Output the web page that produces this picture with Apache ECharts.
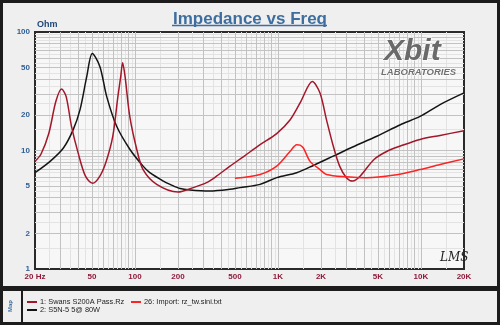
<!DOCTYPE html>
<html>
<head>
<meta charset="utf-8">
<script src="https://cdn.jsdelivr.net/npm/echarts@6/dist/echarts.min.js"></script>
<style>html,body{margin:0;padding:0;background:#1c1c1c}#c{width:500px;height:325px}</style>
</head>
<body>
<div id="c"></div>
<script>
// ---- data ----
const s1Name = '1: Swans S200A Pass.Rz';
const s1Freq = [20,22,25,28,30.7,33,36,40,45,50.6,57,63,70,76,79.5,82,85.3,92,103,114,142,200,256,317,374,462,572,750,980,1218,1428,1740,1968,2184,2436,2700,3011,3331,3766,4696,5800,7180,9860,13600,20000];
const s1Ohm  = [8.1,9.3,14,26,33,28.6,16,9.6,6.1,5.28,6.1,8.1,13.2,28.6,42,55,42,19.4,10.2,6.9,5.18,4.46,4.86,5.35,6.1,7.38,8.85,11.2,13.9,18.2,25.2,38.2,30.6,18.2,10.9,7.38,5.9,5.52,6.1,8.4,9.86,10.9,12.4,13.4,14.7];

const s2Name = '2: S5N-5 5@ 80W';
const s2Freq = [20,25.5,31.6,37,41.3,46,50.3,56.9,63.4,74.5,92.3,114,127,158,176,207,242,334,462,542,750,980,1352,1769,2436,3331,4912,7180,9860,13600,20000];
const s2Ohm  = [6.5,8.1,10.5,15,22.1,42,66,51,28.6,16,10.2,7.38,6.5,5.52,5.18,4.77,4.64,4.55,4.7,4.86,5.18,5.9,6.5,7.48,8.96,10.7,13.2,16.5,19.4,24.4,30.6];

const s3Name = '26: Import: rz_tw.sini.txt';
const s3Freq = [500,750,980,1218,1352,1428,1506,1678,1968,2184,3011,4160,6350,9860,13600,20000];
const s3Ohm  = [5.82,6.28,7.38,9.86,11.2,11.1,10.5,8.1,6.9,6.28,6.0,5.9,6.17,6.9,7.62,8.5];

const xTicks = [20,50,100,200,500,1000,2000,5000,10000,20000];
const xTickLabels = ['20 Hz','50','100','200','500','1K','2K','5K','10K','20K'];
const yTicks = [1,2,5,10,20,50,100];
const yTickLabels = ['1','2','5','10','20','50','100'];

// ---- build ----
const zip = (a,b) => a.map((v,i)=>[v,b[i]]);
const LIGHT = '#e3e3e3', MID = '#c2c2c2';
const gridLines = [];
[10,100,1000,10000].forEach(d=>{
  for(let m=1;m<=9.5;m+=0.5){
    const v=m*d;
    if(v>20 && v<20000){
      gridLines.push({xAxis:v, lineStyle:{color: (m%1===0)?MID:LIGHT, width:1, type:'solid'}});
    }
  }
});
[1,10].forEach(d=>{
  for(let m=1;m<=9.5;m+=0.5){
    const v=m*d;
    if(v>1 && v<100){
      gridLines.push({yAxis:v, lineStyle:{color: (m%1===0)?MID:LIGHT, width:1, type:'solid'}});
    }
  }
});
gridLines.sort((a,b)=> (a.lineStyle.color===LIGHT?0:1)-(b.lineStyle.color===LIGHT?0:1));

const chart = echarts.init(document.getElementById('c'), null, {renderer:'canvas'});
const lab = (v, list, labels) => { const i = list.findIndex(t=>Math.abs(t-v)/t<1e-6); return i>=0?labels[i]:''; };
const legText = {fontSize:7.4, color:'#222', fontFamily:'Liberation Sans', padding:[0,0,0,-2]};

chart.setOption({
  animation:false,
  backgroundColor:'#1c1c1c',
  title:{text:'Impedance vs Freq', left:'center', top:6,
    textStyle:{color:'#3d6e9e', fontSize:17, fontWeight:'bold', fontFamily:'Liberation Sans'}},
  graphic:[
    {type:'rect', z:-10, shape:{x:3,y:3,width:494,height:283}, style:{fill:'#efefef'}},
    {type:'rect', z:-10, shape:{x:3,y:291,width:494,height:31}, style:{fill:'#efefef'}},
    {type:'line', z:-9, shape:{x1:22,y1:291,x2:22,y2:322}, style:{stroke:'#1c1c1c', lineWidth:2}},
    {type:'line', z:5, shape:{x1:172,y1:25.5,x2:327,y2:25.5}, style:{stroke:'#3d6e9e', lineWidth:1.5}},
    {type:'text', z:5, x:10, y:306, rotation:Math.PI/2, style:{text:'Map', fill:'#3d6e9e', font:'bold 6px Liberation Sans', align:'center', verticalAlign:'middle'}},
    {type:'text', z:50, x:384, y:37, style:{text:'Xbit', fill:'#6a6a6a', stroke:'#ffffff', lineWidth:1.2, font:'italic bold 30px Liberation Sans'}},
    {type:'text', z:50, x:381, y:67, style:{text:'LABORATORIES', fill:'#707070', stroke:'#ffffff', lineWidth:0.8, font:'italic bold 9.5px Liberation Sans'}},
    {type:'text', z:50, x:440, y:252, style:{text:'LMS', fill:'#222', font:'italic 12px DejaVu Serif'}}
  ],
  legend:[
    {left:27, top:298.5, padding:0, itemWidth:10, itemHeight:2, icon:'rect', data:[s1Name], textStyle:legText},
    {left:131, top:298.5, padding:0, itemWidth:10, itemHeight:2, icon:'rect', data:[s3Name], textStyle:legText},
    {left:27, top:306.5, padding:0, itemWidth:10, itemHeight:2, icon:'rect', data:[s2Name], textStyle:legText}
  ],
  grid:{left:35, top:32, right:36, bottom:56, show:true, backgroundColor:'#f7f7f7', borderColor:'#2a2a2a', borderWidth:2, containLabel:false},
  xAxis:{type:'log', logBase:10, min:20, max:20000,
    axisLine:{show:false}, axisTick:{show:false}, splitLine:{show:false},
    axisLabel:{customValues:xTicks, formatter:v=>lab(v,xTicks,xTickLabels), color:'#8e1a3a', fontSize:8, fontWeight:'bold', fontFamily:'Liberation Sans', margin:4, showMinLabel:true, showMaxLabel:true}},
  yAxis:{type:'log', logBase:10, min:1, max:100,
    name:'Ohm', nameLocation:'end', nameGap:3,
    nameTextStyle:{align:'left', color:'#1f4677', fontSize:9, fontWeight:'bold', fontFamily:'Liberation Sans', padding:[0,0,0,2]},
    axisLine:{show:false}, axisTick:{show:false}, splitLine:{show:false},
    axisLabel:{customValues:yTicks, formatter:v=>lab(v,yTicks,yTickLabels), color:'#2f5f96', fontSize:8, fontWeight:'bold', fontFamily:'Liberation Sans', margin:5, showMinLabel:true, showMaxLabel:true}},
  series:[
    {type:'line', name:'grid', data:[], z:1, silent:true,
      markLine:{silent:true, z:1, symbol:'none', label:{show:false}, animation:false, data:gridLines}},
    {type:'line', name:s2Name, data:zip(s2Freq,s2Ohm), z:3, showSymbol:false, smooth:0.3, color:'#141414', lineStyle:{width:1.5}},
    {type:'line', name:s1Name, data:zip(s1Freq,s1Ohm), z:4, showSymbol:false, smooth:0.3, color:'#a3172a', lineStyle:{width:1.5}},
    {type:'line', name:s3Name, data:zip(s3Freq,s3Ohm), z:5, showSymbol:false, smooth:0.3, color:'#ff2222', lineStyle:{width:1.5}}
  ]
});
</script>
</body>
</html>
